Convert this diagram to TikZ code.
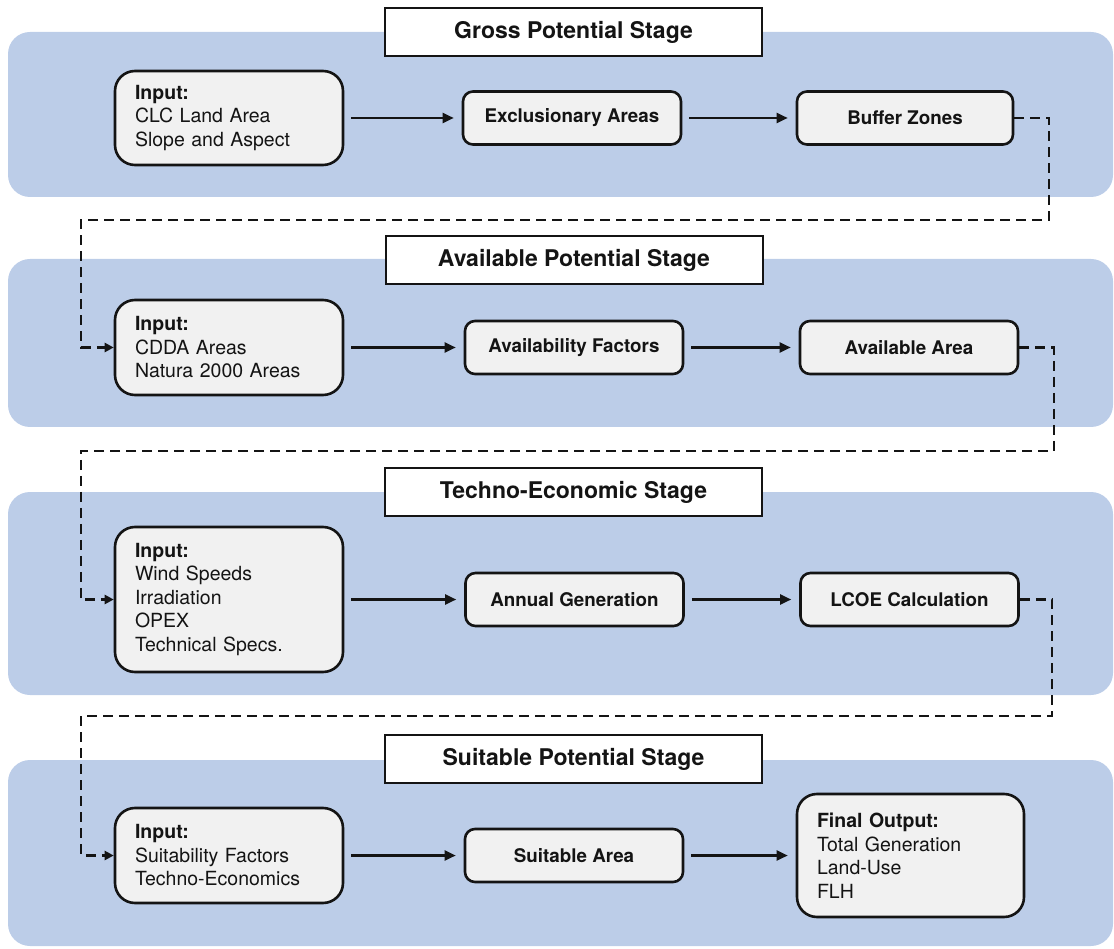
\documentclass[tikz,border=0pt]{standalone}
\usepackage{fontspec}
\setmainfont{TeX Gyre Heros}
\usetikzlibrary{arrows.meta}
\definecolor{panelblue}{RGB}{188,205,232}
\definecolor{boxgray}{RGB}{241,241,241}
\definecolor{ink}{RGB}{20,20,20}
\begin{document}
\begin{tikzpicture}[x=1pt,y=-1pt,
  panel/.style={fill=panelblue, rounded corners=22pt},
  titlebox/.style={draw=ink, line width=2pt, fill=white, text=ink, minimum width=377pt, minimum height=48pt, inner sep=0pt, font=\fontsize{23}{26}\selectfont\bfseries},
  inbox/.style={draw=ink, line width=2.6pt, fill=boxgray, text=ink, rounded corners=20pt, minimum width=228pt, text width=188pt, inner xsep=20pt, inner ysep=0pt, align=left, font=\fontsize{19.5}{23.5}\selectfont},
  stepbox/.style={draw=ink, line width=2.6pt, fill=boxgray, text=ink, rounded corners=10pt, minimum width=218pt, minimum height=53pt, inner sep=0pt, font=\fontsize{18.8}{22}\selectfont\bfseries},
  flow/.style={draw=ink, line width=2.3pt, -{Triangle[length=11pt,width=10pt]}, shorten <=7pt, shorten >=8pt},
  loop/.style={draw=ink, line width=2.3pt, dash pattern=on 10pt off 6pt, -{Triangle[length=9pt,width=9pt]}},
]
\path[use as bounding box] (0,0) rectangle (1114,949);

% stage panels
\fill[panel] (8,32) rectangle (1113,197);
\fill[panel] (8,259) rectangle (1113,427);
\fill[panel] (8,492) rectangle (1113,695);
\fill[panel] (8,760) rectangle (1113,946);

% stage titles
\node[titlebox] (t1) at (573.5,32.5) {Gross Potential Stage};
\node[titlebox] (t2) at (574,260) {Available Potential Stage};
\node[titlebox] (t3) at (573.5,492) {Techno-Economic Stage};
\node[titlebox] (t4) at (573.5,759) {Suitable Potential Stage};

% row 1
\node[inbox, minimum height=94pt] (in1) at (229,118) {\textbf{Input:}\\CLC Land Area\\Slope and Aspect};
\node[stepbox] (ex) at (572,118) {Exclusionary Areas};
\node[stepbox, minimum width=216pt] (buf) at (905,118) {Buffer Zones};

% row 2
\node[inbox, minimum height=95pt] (in2) at (229,347.5) {\textbf{Input:}\\CDDA Areas\\Natura 2000 Areas};
\node[stepbox] (af) at (574,347.5) {Availability Factors};
\node[stepbox] (aa) at (909,347.5) {Available Area};

% row 3
\node[inbox, minimum height=145pt] (in3) at (229,599.5) {\textbf{Input:}\\Wind Speeds\\Irradiation\\OPEX\\Technical Specs.};
\node[stepbox] (ag) at (574.5,599.5) {Annual Generation};
\node[stepbox] (lc) at (909.5,599.5) {LCOE Calculation};

% row 4
\node[inbox, minimum height=95pt] (in4) at (229,855.5) {\textbf{Input:}\\Suitability Factors\\Techno-Economics};
\node[stepbox] (sa) at (574,855.5) {Suitable Area};
\node[inbox, minimum width=227pt, text width=187pt, minimum height=123pt] (fo) at (910.5,855.5) {\textbf{Final Output:}\\Total Generation\\Land-Use\\FLH};

% solid flows
\draw[flow] (in1.east) -- (ex.west);
\draw[flow] (ex.east) -- (buf.west);
\draw[flow] (in2.east) -- (af.west);
\draw[flow] (af.east) -- (aa.west);
\draw[flow] (in3.east) -- (ag.west);
\draw[flow] (ag.east) -- (lc.west);
\draw[flow] (in4.east) -- (sa.west);
\draw[flow] (sa.east) -- (fo.west);

% dashed stage links
\coordinate (r1) at (1049,220);
\coordinate (l1) at (81,220);
\coordinate (r2) at (1054,451);
\coordinate (l2) at (81,451);
\coordinate (r3) at (1052,716);
\coordinate (l3) at (81,716);
\draw[loop] (buf.east) -| (r1) -- (l1) |- (in2.west);
\draw[loop] (aa.east) -| (r2) -- (l2) |- (in3.west);
\draw[loop] (lc.east) -| (r3) -- (l3) |- (in4.west);
\end{tikzpicture}
\end{document}
